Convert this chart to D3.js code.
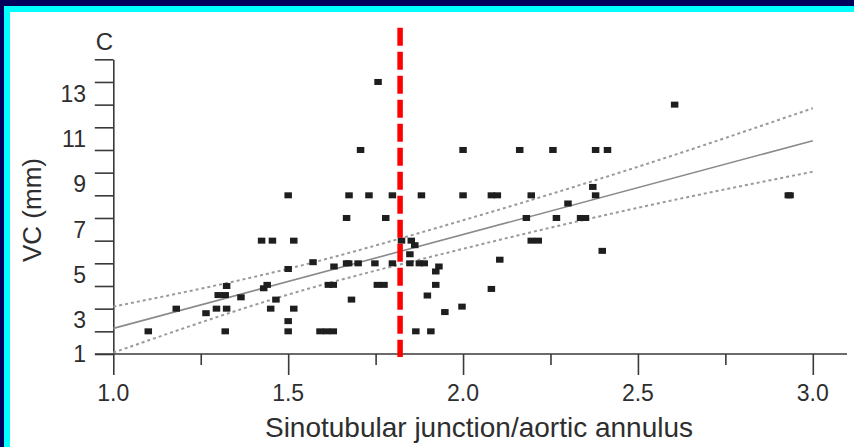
<!DOCTYPE html>
<html>
<head>
<meta charset="utf-8">
<script src="https://cdn.jsdelivr.net/npm/d3@7"></script>
<style>
  html, body { margin: 0; padding: 0; background: #fff; }
  svg { display: block; }
  text { font-family: "Liberation Sans", Arial, Helvetica, sans-serif; fill: #2e2e2e; }
</style>
</head>
<body>
<svg id="chart" width="854" height="447"></svg>
<script>
// ---- data ----
const vcX = [1.10, 1.18, 1.265, 1.30, 1.32, 1.324, 1.295, 1.324, 1.32, 1.365,
  1.424, 1.455, 1.43, 1.44, 1.45, 1.465, 1.50, 1.516, 1.50, 1.516,
  1.50, 1.50, 1.571, 1.591, 1.61, 1.629, 1.631, 1.615, 1.629, 1.681,
  1.667, 1.674, 1.667, 1.673, 1.70, 1.707, 1.731, 1.748, 1.755, 1.774,
  1.757, 1.779, 1.798, 1.798, 1.824, 1.852, 1.862, 1.848, 1.848, 1.875,
  1.889, 1.881, 1.865, 1.908, 1.931, 1.922, 1.922, 1.898, 1.948, 1.997,
  2.0, 2.0, 2.081, 2.081, 2.098, 2.105, 2.162, 2.195, 2.181, 2.195,
  2.215, 2.257, 2.267, 2.30, 2.336, 2.35, 2.371, 2.379, 2.379, 2.413,
  2.398, 2.605, 2.93, 2.935];
const vcY = [2, 3, 2.8, 3.6, 3.6, 4, 3, 3, 2, 3.5,
  6, 6, 3.9, 4.05, 3, 3.4, 8, 6, 4.75, 3,
  2.45, 2, 5.05, 2, 2, 2, 4.86, 4.05, 4.05, 3.4,
  7, 8, 5, 5, 5, 10, 8, 5, 4.05, 4.05,
  13, 7, 8, 5, 6, 6, 5.8, 5.4, 5, 5,
  5, 8, 2, 2, 4.86, 4.64, 4.05, 3.58, 2.85, 3.09,
  10, 8, 3.87, 8, 8, 5.16, 10, 8, 7, 6,
  6, 10, 7, 7.64, 7, 7, 8.37, 8, 10, 10,
  5.55, 12, 8, 8];

const regX = [1.0, 3.0];
const regY = [2.13, 10.41];
const ciX = [1.0, 1.5, 2.0, 2.5, 3.0];
const ciUpper = [3.09, 4.76, 6.90, 9.26, 11.84];
const ciLower = [1.06, 3.62, 5.64, 7.45, 9.04];

const cutoffX = 1.82;

const xTicks = [1.0, 1.25, 1.5, 1.75, 2.0, 2.25, 2.5, 2.75, 3.0];
const xTickLabels = [1.0, 1.5, 2.0, 2.5, 3.0];
const yTicks = [1, 2, 3, 4, 5, 6, 7, 8, 9, 10, 11, 12, 13, 14];
const yTickLabels = [1, 3, 5, 7, 9, 11, 13];

const xTitle = "Sinotubular junction/aortic annulus";
const yTitle = "VC (mm)";
const panelLabel = "C";

// ---- layout ----
const svg = d3.select("#chart");
const W = 854, H = 447;

// frame
svg.append("rect").attr("x", 0).attr("y", 0).attr("width", W).attr("height", H).attr("fill", "#00005c");
svg.append("rect").attr("x", 4).attr("y", 6).attr("width", W - 4).attr("height", H - 6).attr("fill", "#00ffff");
svg.append("rect").attr("x", 10).attr("y", 12).attr("width", W - 10).attr("height", H - 12).attr("fill", "#ffffff");

const x = d3.scaleLinear().domain([1, 3]).range([113.3, 812.8]);
const y = d3.scaleLinear().domain([1, 14]).range([354, 59.3]);

const axisColor = "#3a3a3a";

// x axis
const xAxisG = svg.append("g").attr("transform", `translate(0,${y(1)})`)
  .call(d3.axisBottom(x).tickValues(xTicks).tickFormat("").tickSizeOuter(0));
xAxisG.select(".domain").remove();
xAxisG.selectAll(".tick line")
  .attr("stroke", axisColor).attr("stroke-width", 1.6)
  .attr("y2", d => (Math.abs(d * 2 - Math.round(d * 2)) < 1e-6 ? 21 : 11));
xAxisG.append("line").attr("x1", 95).attr("x2", 847).attr("y1", 0).attr("y2", 0)
  .attr("stroke", axisColor).attr("stroke-width", 1.6);

svg.append("g").selectAll("text").data(xTickLabels).join("text")
  .attr("x", d => x(d)).attr("y", 401)
  .attr("text-anchor", "middle").attr("font-size", 23)
  .text(d => d3.format(".1f")(d));

// y axis
const yAxisG = svg.append("g").attr("transform", `translate(${x(1)},0)`)
  .call(d3.axisLeft(y).tickValues(yTicks).tickFormat("").tickSize(18.5).tickSizeOuter(0));
yAxisG.select(".domain").attr("stroke", axisColor).attr("stroke-width", 1.6);
yAxisG.selectAll(".tick line").attr("stroke", axisColor).attr("stroke-width", 1.6);

svg.append("g").selectAll("text").data(yTickLabels).join("text")
  .attr("x", 86).attr("y", d => y(d === 1 ? d : d - 0.5))
  .attr("dy", "0.36em")
  .attr("text-anchor", "end").attr("font-size", 23)
  .text(d => d);

// panel label
svg.append("text").attr("x", 104.5).attr("y", 50).attr("text-anchor", "middle")
  .attr("font-size", 24).text(panelLabel);

// titles
svg.append("text").attr("x", 479).attr("y", 437).attr("text-anchor", "middle")
  .attr("font-size", 28).text(xTitle);
svg.append("text").attr("transform", `translate(40.5,210) rotate(-90)`)
  .attr("text-anchor", "middle").attr("font-size", 26).text(yTitle);

// regression line and CI
const line = d3.line().x(d => x(d[0])).y(d => y(d[1]));
svg.append("path").datum(regX.map((v, i) => [v, regY[i]]))
  .attr("d", line).attr("fill", "none").attr("stroke", "#8a8a8a").attr("stroke-width", 1.6);

const curve = d3.line().x(d => x(d[0])).y(d => y(d[1])).curve(d3.curveMonotoneX);
[ciUpper, ciLower].forEach(arr => {
  svg.append("path").datum(ciX.map((v, i) => [v, arr[i]]))
    .attr("d", curve).attr("fill", "none").attr("stroke", "#9a9a9a")
    .attr("stroke-width", 2).attr("stroke-dasharray", "3,3");
});

// points
const pw = 7.5, ph = 6;
svg.append("g").selectAll("rect").data(vcX.map((v, i) => [v, vcY[i]])).join("rect")
  .attr("x", d => x(d[0]) - pw / 2).attr("y", d => y(d[1]) - ph / 2)
  .attr("width", pw).attr("height", ph).attr("fill", "#1e1e1e");

// red cutoff line
svg.append("line").attr("x1", x(cutoffX)).attr("x2", x(cutoffX))
  .attr("y1", 27.7).attr("y2", 357)
  .attr("stroke", "#ff0000").attr("stroke-width", 5.5).attr("stroke-dasharray", "18,6");
</script>
</body>
</html>
